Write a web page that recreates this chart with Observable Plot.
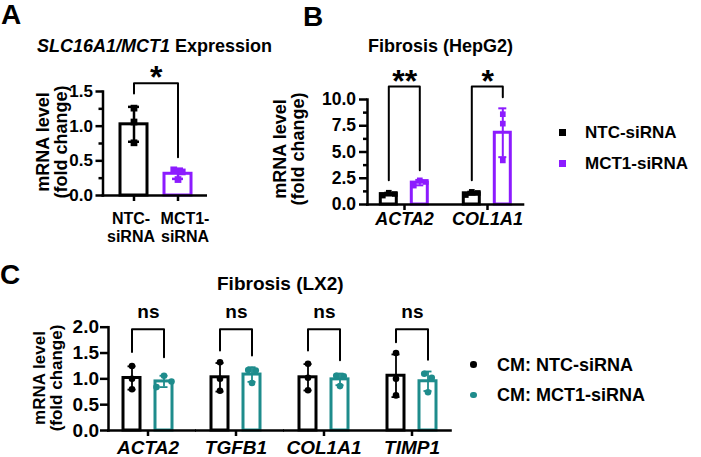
<!DOCTYPE html>
<html><head><meta charset="utf-8">
<script src="https://cdn.jsdelivr.net/npm/d3@7"></script>
<script src="https://cdn.jsdelivr.net/npm/@observablehq/plot@0.6"></script>
<style>
body{margin:0;background:#fff;}
#root{position:relative;width:701px;height:457px;overflow:hidden;font-family:"Liberation Sans",Arial,sans-serif;font-weight:bold;color:#000;}
.abs{position:absolute;white-space:nowrap;line-height:1;}
.ylab{position:absolute;white-space:nowrap;line-height:1;text-align:center;transform:translate(-50%,-50%) rotate(-90deg);}
.panel{position:absolute;}
.panel svg{overflow:visible;}
.mk{position:absolute;}
</style></head><body><div id="root"></div>
<script>
const FONT = '"Liberation Sans", Arial, sans-serif';
const PURPLE = "#8C1BFF";
const TEAL = "#1E8C8C";

// ---- Panel A data ----
const seriesA = ["NTC-siRNA", "MCT1-siRNA"];
const ntcA = [1.26, 1.06, 0.76];
const mct1A = [0.37, 0.34, 0.23];
const yTicksA = [0, 0.5, 1.0, 1.5];
const yMinorA = [0.25, 0.75, 1.25];
const bracketLeftA = [1.47];
const bracketTopA = [1.62];
const bracketRightA = [0.55];
const sigA = ["*"];

// ---- Panel B data ----
const genesB = ["ACTA2", "COL1A1"];
const seriesB = ["NTC-siRNA", "MCT1-siRNA"];
const ntcB = [[1.12, 1.0, 0.85], [1.2, 1.1, 0.9]];
const mct1B = [[2.3, 2.15, 1.8], [8.6, 7.7, 4.2]];
const yTicksB = [0, 2.5, 5, 7.5, 10];
const yMinorB = [1.25, 3.75, 6.25, 8.75];
const bracketLeftB = [2.31, 2.31];
const bracketTopB = [11.23, 11.23];
const bracketRightB = [3.26, 10.22];
const sigB = ["**", "*"];

// ---- Panel C data ----
const genesC = ["ACTA2", "TGFB1", "COL1A1", "TIMP1"];
const seriesC = ["CM: NTC-siRNA", "CM: MCT1-siRNA"];
const ntcC = [[1.25, 1.0, 0.8], [1.32, 1.0, 0.77], [1.29, 1.02, 0.78], [1.50, 1.00, 0.68]];
const mct1C = [[1.06, 0.95, 0.84], [1.17, 1.16, 0.92], [1.06, 1.05, 0.86], [1.10, 1.02, 0.74]];
const yTicksC = [0, 0.5, 1.0, 1.5, 2.0];
const bracketLeftC = [1.52, 1.55, 1.55, 1.71];
const bracketTopC = [1.96, 1.96, 1.96, 1.96];
const bracketRightC = [1.42, 1.45, 1.36, 1.37];
const sigC = ["ns", "ns", "ns", "ns"];

// ---- helpers ----
function summarize(genes, series, lists) {
  const bars = [], pts = [];
  genes.forEach((g, i) => series.forEach((s, j) => {
    const v = lists[j][i];
    bars.push({gene: g, series: s, mean: d3.mean(v), sd: d3.deviation(v)});
    v.forEach(y => pts.push({gene: g, series: s, y}));
  }));
  return {bars, pts};
}
// spread overlapping replicate points sideways (like a scatter-dot-plot)
function spread(pts, pxPerUnit, size) {
  const pattern = {1: [0], 2: [-0.5, 0.5], 3: [0, 1, -1]};
  for (const arr of d3.group(pts, d => d.gene + "|" + d.series).values()) {
    arr.sort((a, b) => b.y - a.y);
    const clusters = [];
    let cur = [arr[0]];
    for (let i = 1; i < arr.length; i++) {
      if ((arr[i - 1].y - arr[i].y) * pxPerUnit < size) cur.push(arr[i]);
      else { clusters.push(cur); cur = [arr[i]]; }
    }
    clusters.push(cur);
    clusters.forEach(c => c.forEach((p, i) => { p.off = pattern[c.length][i]; }));
  }
  return pts;
}
function dotMarks(pts, spacing, opts) {
  return Array.from(d3.group(pts, d => d.off), ([off, rows]) =>
    Plot.dot(rows, {...opts, dx: off * spacing}));
}
function bracketRows(genes, series, left, top, right) {
  return genes.flatMap((g, i) => [
    {gene: g, series: series[0], y: left[i]},
    {gene: g, series: series[0], y: top[i]},
    {gene: g, series: series[1], y: top[i]},
    {gene: g, series: series[1], y: right[i]}
  ]);
}
function sigRows(genes, top, labels) {
  return genes.map((g, i) => ({gene: g, top: top[i], label: labels[i]}));
}
const fmt1 = d3.format(".1f");
const root = document.getElementById("root");
function place(el, left, top) {
  const d = document.createElement("div");
  d.className = "panel";
  d.style.left = left + "px"; d.style.top = top + "px";
  d.appendChild(el); root.appendChild(d);
}
function addText(html, cls, style) {
  const d = document.createElement("div");
  d.className = cls; d.innerHTML = html;
  Object.assign(d.style, style);
  root.appendChild(d);
}
const baseStyle = {background: "transparent", fontFamily: FONT, fontWeight: "bold", overflow: "visible", color: "black"};

// ================= Panel A =================
{
  const genesA = ["SLC16A1"];
  const H = 250, mt = 91, mb = 55, yMax = 1.5;
  const {bars, pts} = summarize(genesA, seriesA, [[ntcA], [mct1A]]);
  spread(pts, (H - mt - mb) / yMax, 7);
  const br = bracketRows(genesA, seriesA, bracketLeftA, bracketTopA, bracketRightA);
  const sg = sigRows(genesA, bracketTopA, sigA);
  const xRange = [119.5, 191.5], pin = 0.38;
  const step = d3.scaleBand(seriesA, xRange).paddingInner(pin).paddingOuter(0).step();
  const xLabel = {tickSize: 0, tickPadding: 15, fontSize: 16, lineHeight: 1.15, label: null, tickFormat: d => d.replace("-", "-\n")};
  const plot = Plot.plot({
    width: 240, height: H,
    marginLeft: 102.5, marginRight: 33, marginTop: mt, marginBottom: mb,
    style: baseStyle,
    x: {domain: seriesA, range: xRange, paddingInner: pin, paddingOuter: 0, axis: null},
    y: {domain: [0, yMax], axis: null},
    color: {domain: seriesA, range: ["#000000", PURPLE]},
    marks: [
      Plot.barY(bars, {x: "series", y: "mean", fill: "white", stroke: "series", strokeWidth: 3}),
      Plot.ruleX(bars, {x: "series", y1: d => d.mean - d.sd, y2: d => d.mean + d.sd, stroke: "series", strokeWidth: 2.5}),
      Plot.tickY(bars, {x: "series", y: d => d.mean + d.sd, stroke: "series", strokeWidth: 2.5, insetLeft: 8, insetRight: 8}),
      Plot.tickY(bars, {x: "series", y: d => d.mean - d.sd, stroke: "series", strokeWidth: 2.5, insetLeft: 8, insetRight: 8}),
      ...dotMarks(pts, 8.5, {x: "series", y: "y", fill: "series", symbol: "square", r: 3.8}),
      Plot.line(br, {x: "series", y: "y", z: "gene", stroke: "black", strokeWidth: 2}),
      Plot.text(sg, {x: () => seriesA[0], y: "top", text: "label", dx: step / 2, dy: -5, fontSize: 32, fontWeight: "bold"}),
      Plot.ruleY([0], {strokeWidth: 2.5, insetLeft: -1}),
      Plot.frame({anchor: "left", strokeWidth: 2.5}),
      Plot.axisY({ticks: yTicksA, tickFormat: fmt1, tickSize: 7, tickPadding: 3, strokeWidth: 2.5, fontSize: 17, label: null}),
      Plot.axisY({ticks: yMinorA, tickFormat: () => "", tickSize: 4, strokeWidth: 2.5, label: null}),
      Plot.axisX({tickSize: 6, strokeWidth: 2.5, tickFormat: () => "", label: null}),
      Plot.axisX([seriesA[0]], {...xLabel, dx: -3}),
      Plot.axisX([seriesA[1]], {...xLabel, dx: 7})
    ]
  });
  place(plot, 0, 0);
}

// ================= Panel B =================
{
  const H = 250, mt = 99, mb = 46, yMax = 10;
  const {bars, pts} = summarize(genesB, seriesB, [ntcB, mct1B]);
  spread(pts, (H - mt - mb) / yMax, 6);
  const br = bracketRows(genesB, seriesB, bracketLeftB, bracketTopB, bracketRightB);
  const sg = sigRows(genesB, bracketTopB, sigB);
  const W = 300, ml = 126.7, fw = 83.5;
  const mr = W - ml - fw * genesB.length;
  const pin = 0.469, pout = 0.539, align = 0.371;
  const step = d3.scaleBand(seriesB, [0, fw]).paddingInner(pin).paddingOuter(pout).step();
  const last = genesB.slice(-1), rest = genesB.slice(0, -1);
  const plot = Plot.plot({
    width: W, height: H,
    marginLeft: ml, marginRight: mr, marginTop: mt, marginBottom: mb,
    style: baseStyle,
    fx: {domain: genesB, padding: 0},
    x: {domain: seriesB, paddingInner: pin, paddingOuter: pout, align, axis: null},
    y: {domain: [0, yMax]},
    color: {domain: seriesB, range: ["#000000", PURPLE]},
    marks: [
      Plot.barY(bars, {fx: "gene", x: "series", y: "mean", fill: "white", stroke: "series", strokeWidth: 3}),
      Plot.ruleX(bars, {fx: "gene", x: "series", y1: d => d.mean - d.sd, y2: d => d.mean + d.sd, stroke: "series", strokeWidth: 2}),
      Plot.tickY(bars, {fx: "gene", x: "series", y: d => d.mean + d.sd, stroke: "series", strokeWidth: 2, insetLeft: 4, insetRight: 4}),
      Plot.tickY(bars, {fx: "gene", x: "series", y: d => d.mean - d.sd, stroke: "series", strokeWidth: 2, insetLeft: 4, insetRight: 4}),
      ...dotMarks(pts, 6, {fx: "gene", x: "series", y: "y", fill: "series", symbol: "square", r: 3.2}),
      Plot.line(br, {fx: "gene", x: "series", y: "y", z: "gene", stroke: "black", strokeWidth: 2}),
      Plot.text(sg, {fx: "gene", x: () => seriesB[0], y: "top", text: "label", dx: step / 2, dy: -5, fontSize: 32, fontWeight: "bold"}),
      Plot.ruleY(rest, {fx: d => d, y: () => 0, strokeWidth: 2.5, insetLeft: -1}),
      Plot.ruleY(last, {fx: d => d, y: () => 0, strokeWidth: 2.5, insetRight: 8.7}),
      Plot.frame({anchor: "left", facetAnchor: "left", strokeWidth: 2.5}),
      Plot.axisY({ticks: yTicksB, tickFormat: fmt1, tickSize: 8, tickPadding: 3.5, strokeWidth: 2.5, fontSize: 17.5, label: null}),
      Plot.axisY({ticks: yMinorB, tickFormat: () => "", tickSize: 4, strokeWidth: 2.5, label: null}),
      Plot.axisFx({anchor: "bottom", tickSize: 6, tickPadding: 2, strokeWidth: 2.5, dx: -4.5, fontSize: 18, fontStyle: "italic", label: null})
    ]
  });
  place(plot, 240, 0);
}

// ================= Panel C =================
{
  const H = 207, mt = 76.7, mb = 27, yMax = 2;
  const {bars, pts} = summarize(genesC, seriesC, [ntcC, mct1C]);
  spread(pts, (H - mt - mb) / yMax, 6.6);
  const br = bracketRows(genesC, seriesC, bracketLeftC, bracketTopC, bracketRightC);
  const sg = sigRows(genesC, bracketTopC, sigC);
  const W = 460, ml = 107, fw = 88.3;
  const mr = W - ml - fw * genesC.length;
  const pin = 0.47, pout = 0.58, align = 0.379;
  const step = d3.scaleBand(seriesC, [0, fw]).paddingInner(pin).paddingOuter(pout).step();
  const last = genesC.slice(-1), rest = genesC.slice(0, -1);
  const plot = Plot.plot({
    width: W, height: H,
    marginLeft: ml, marginRight: mr, marginTop: mt, marginBottom: mb,
    style: baseStyle,
    fx: {domain: genesC, padding: 0},
    x: {domain: seriesC, paddingInner: pin, paddingOuter: pout, align, axis: null},
    y: {domain: [0, yMax]},
    color: {domain: seriesC, range: ["#000000", TEAL]},
    marks: [
      Plot.barY(bars, {fx: "gene", x: "series", y: "mean", fill: "white", stroke: "series", strokeWidth: 3}),
      Plot.ruleX(bars, {fx: "gene", x: "series", y1: d => d.mean - d.sd, y2: d => d.mean + d.sd, stroke: "series", strokeWidth: 1.8}),
      Plot.tickY(bars, {fx: "gene", x: "series", y: d => d.mean + d.sd, stroke: "series", strokeWidth: 1.8, insetLeft: 4.5, insetRight: 4.5}),
      Plot.tickY(bars, {fx: "gene", x: "series", y: d => d.mean - d.sd, stroke: "series", strokeWidth: 1.8, insetLeft: 4.5, insetRight: 4.5}),
      ...dotMarks(pts, 7.5, {fx: "gene", x: "series", y: "y", fill: "series", r: 3.3}),
      Plot.line(br, {fx: "gene", x: "series", y: "y", z: "gene", stroke: "black", strokeWidth: 2}),
      Plot.text(sg, {fx: "gene", x: () => seriesC[0], y: "top", text: "label", dx: step / 2, dy: -17, fontSize: 19, fontWeight: "bold"}),
      Plot.ruleY(rest, {fx: d => d, y: () => 0, strokeWidth: 2.5, insetLeft: -1}),
      Plot.ruleY(last, {fx: d => d, y: () => 0, strokeWidth: 2.5, insetRight: 8.2}),
      Plot.frame({anchor: "left", facetAnchor: "left", strokeWidth: 2.5}),
      Plot.axisY({ticks: yTicksC, tickFormat: fmt1, tickSize: 8, tickPadding: 1.5, strokeWidth: 2.5, fontSize: 19, label: null}),
      Plot.axisFx({anchor: "bottom", tickSize: 6, tickPadding: 4, strokeWidth: 2.5, dx: -4.5, fontSize: 19, fontStyle: "italic", label: null})
    ]
  });
  place(plot, 0, 250);
}

// ================= Text: letters, titles, axis labels, legends =================
addText("A", "abs", {left: "1px", top: "1px", fontSize: "28px"});
addText("B", "abs", {left: "303px", top: "3px", fontSize: "28px"});
addText("C", "abs", {left: "0px", top: "261px", fontSize: "28px"});

addText("<i>SLC16A1/MCT1</i> Expression", "abs", {left: "37px", top: "36.5px", fontSize: "18px"});
addText("Fibrosis (HepG2)", "abs", {left: "368px", top: "36.5px", fontSize: "18px"});
addText("Fibrosis (LX2)", "abs", {left: "217px", top: "274px", fontSize: "19px"});

addText("mRNA level<br>(fold change)", "ylab", {left: "52px", top: "142px", fontSize: "18px"});
addText("mRNA level<br>(fold change)", "ylab", {left: "289px", top: "149px", fontSize: "18px"});
addText("mRNA level<br>(fold change)", "ylab", {left: "47.6px", top: "378px", fontSize: "17px"});

// legends
const legendB = [{label: seriesB[0], color: "#000000", cy: 132.5}, {label: seriesB[1], color: PURPLE, cy: 163}];
legendB.forEach(r => {
  addText("", "mk", {left: (562.5 - 3.5) + "px", top: (r.cy - 3.5) + "px", width: "7px", height: "7px", background: r.color});
  addText(r.label, "abs", {left: "585px", top: (r.cy - 0.488 * 17) + "px", fontSize: "17px"});
});
const legendC = [{label: seriesC[0], color: "#000000", cy: 364.5}, {label: seriesC[1], color: TEAL, cy: 395}];
legendC.forEach(r => {
  addText("", "mk", {left: (473.3 - 3.3) + "px", top: (r.cy - 3.3) + "px", width: "6.6px", height: "6.6px", borderRadius: "50%", background: r.color});
  addText(r.label, "abs", {left: "497px", top: (r.cy - 0.488 * 18) + "px", fontSize: "18px"});
});
</script></body></html>
